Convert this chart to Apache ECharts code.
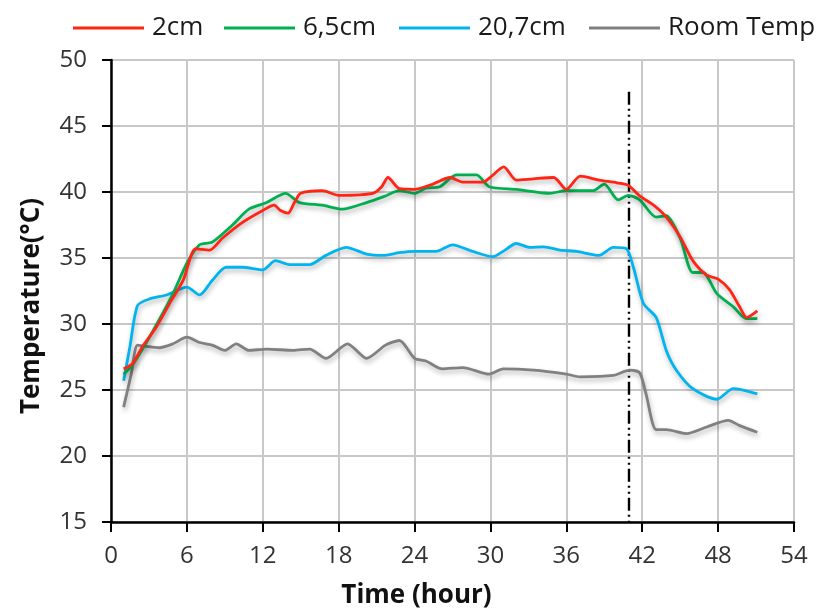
<!DOCTYPE html>
<html>
<head>
<meta charset="utf-8">
<script src="https://cdn.jsdelivr.net/npm/echarts@6/dist/echarts.min.js"></script>
<style>
  html, body { margin: 0; padding: 0; background: #fff; }
  #chart { width: 819px; height: 615px; }
</style>
</head>
<body>
<div id="chart"></div>
<script>
// Temperature readings, [hour, °C]
const depth2cm = [[1,26.6],[1.7,27.0],[2.5,28.3],[3.6,29.8],[4.6,31.5],[5.7,33.3],[6.7,35.7],[7.8,35.6],[8.8,36.5],[10.4,37.7],[12,38.6],[12.9,39.0],[13.4,38.6],[14,38.4],[14.5,39.2],[15,39.9],[16.7,40.1],[18,39.75],[20.7,39.9],[21.4,40.4],[21.9,41.1],[22.8,40.25],[24,40.2],[25.45,40.6],[26.8,41.1],[27.8,40.75],[29.4,40.75],[30.1,41.2],[31.05,41.9],[32.05,40.9],[33.4,41.0],[35.0,41.1],[36.0,40.2],[37.1,41.2],[38.6,40.9],[40.0,40.7],[40.9,40.5],[41.8,39.7],[42.9,39.0],[43.9,38.1],[45.0,36.6],[46.0,34.8],[47.1,33.7],[48.0,33.4],[48.9,32.6],[49.7,31.3],[50.25,30.5],[51.1,31.0]];
const depth6_5cm = [[1,26.2],[1.7,26.9],[2.8,28.6],[3.8,30.3],[4.9,32.3],[6,34.6],[7,36.0],[8,36.2],[9.6,37.5],[10.9,38.7],[12.3,39.2],[13.8,39.9],[14.9,39.2],[16.7,39.0],[18.3,38.7],[20.2,39.2],[21.7,39.7],[22.8,40.1],[24,39.9],[24.9,40.3],[26.0,40.4],[27.3,41.3],[28.9,41.3],[29.9,40.4],[32.05,40.2],[34.7,39.9],[36.0,40.1],[38.1,40.1],[39.0,40.6],[40.1,39.4],[40.9,39.75],[41.8,39.4],[43.1,38.1],[43.9,38.2],[45.0,36.5],[46.0,33.9],[46.8,33.9],[47.9,32.3],[49.2,31.3],[50.25,30.4],[51.1,30.4]];
const depth20_7cm = [[1,25.7],[1.5,28.3],[2.1,31.4],[3.05,31.9],[4.4,32.2],[6,32.8],[7,32.2],[8,33.3],[9.1,34.3],[10.4,34.3],[12,34.1],[13,34.8],[14.1,34.5],[15.7,34.5],[17,35.2],[18.6,35.8],[20.2,35.3],[21.5,35.2],[22.8,35.4],[24,35.5],[25.7,35.5],[27.0,36.0],[28.6,35.5],[30.2,35.1],[31.0,35.5],[32.05,36.1],[33.1,35.8],[34.2,35.85],[35.5,35.6],[36.8,35.5],[38.6,35.2],[39.7,35.8],[40.75,35.7],[41.3,34.3],[42.1,31.55],[43.1,30.5],[43.9,28.0],[44.7,26.5],[46.0,25.1],[47.9,24.3],[49.2,25.1],[51.1,24.7]];
const roomTemp = [[1,23.7],[1.6,26.2],[2.1,28.4],[2.8,28.3],[3.8,28.2],[4.9,28.5],[6,29.0],[7,28.6],[8,28.4],[9,28.0],[9.9,28.5],[10.9,28.0],[12.3,28.1],[14.4,28.0],[15.7,28.1],[17,27.4],[18.7,28.5],[20.2,27.4],[21.7,28.4],[22.8,28.75],[24,27.4],[24.9,27.2],[26.2,26.6],[27.8,26.7],[29.9,26.2],[31.0,26.6],[33.4,26.5],[36.0,26.2],[37.1,26.0],[39.7,26.1],[41.0,26.5],[41.8,26.3],[42.3,24.7],[43.1,22.0],[43.9,22.0],[45.5,21.7],[47.1,22.2],[48.8,22.7],[49.7,22.3],[51.1,21.8]];

const seriesNames = ['2cm', '6,5cm', '20,7cm', 'Room Temp'];
const seriesColors = ['#ff2414', '#00b050', '#00b4f0', '#808080'];
const seriesData = [depth2cm, depth6_5cm, depth20_7cm, roomTemp];

// Moment the heating stopped (hour) and how high its marker reaches (°C)
const stopHour = 40.9;
const stopMarkerTop = 47.6;

const legendLeft = [68, 219, 394, 584];
const FONT = '"Open Sans", "Noto Sans", sans-serif';

const chart = echarts.init(document.getElementById('chart'), null, { renderer: 'canvas' });

const series = seriesNames.map((name, i) => ({
  name: name,
  type: 'line',
  data: seriesData[i],
  smooth: 0.25,
  showSymbol: false,
  symbol: 'none',
  z: 10 - i,
  lineStyle: {
    color: seriesColors[i],
    width: 2.8,
    shadowColor: 'rgba(0,0,0,0.3)',
    shadowBlur: 5,
    shadowOffsetX: 1,
    shadowOffsetY: 3
  },
  itemStyle: { color: seriesColors[i] }
}));

series[0].markLine = {
  silent: true,
  symbol: 'none',
  label: { show: false },
  lineStyle: {
    color: '#000',
    width: 2.4,
    type: [13, 4, 2, 4, 2, 4],
    shadowBlur: 0
  },
  data: [[{ coord: [stopHour, stopMarkerTop] }, { coord: [stopHour, 15] }]]
};

const legends = seriesNames.map((name, i) => ({
  data: [name],
  left: legendLeft[i],
  top: 10,
  icon: 'rect',
  itemWidth: 71,
  itemHeight: 3,
  textStyle: {
    fontFamily: FONT,
    fontSize: 26,
    color: '#1a1a1a',
    padding: [0, 0, 0, 3]
  }
}));

chart.setOption({
  animation: false,
  backgroundColor: '#fff',
  legend: legends,
  grid: { left: 111, right: 25, top: 60, bottom: 93, containLabel: false },
  xAxis: {
    type: 'value',
    min: 0,
    max: 54,
    interval: 6,
    name: 'Time (hour)',
    nameLocation: 'middle',
    nameGap: 61,
    nameTextStyle: { fontFamily: FONT, fontSize: 26, fontWeight: 'bold', color: '#111', padding: [0, 72, 0, 0] },
    axisLine: { show: true, lineStyle: { color: '#000', width: 2.5 } },
    axisTick: { show: true, inside: false, length: 10, lineStyle: { color: '#000', width: 2 } },
    axisLabel: { fontFamily: FONT, fontSize: 24, color: '#333', margin: 22 },
    splitLine: { show: true, lineStyle: { color: '#c8c8c8', width: 2 } }
  },
  yAxis: {
    type: 'value',
    min: 15,
    max: 50,
    interval: 5,
    name: 'Temperature(°C)',
    nameLocation: 'middle',
    nameGap: 66,
    nameTextStyle: { fontFamily: FONT, fontSize: 26, fontWeight: 'bold', color: '#111', padding: [0, 30, 0, 0] },
    axisLine: { show: true, lineStyle: { color: '#000', width: 2.5 } },
    axisTick: { show: true, inside: false, length: 9, lineStyle: { color: '#000', width: 2 } },
    axisLabel: { fontFamily: FONT, fontSize: 24, color: '#333', margin: 24 },
    splitLine: { show: true, lineStyle: { color: '#c8c8c8', width: 2 } }
  },
  series: series
});
</script>
</body>
</html>
